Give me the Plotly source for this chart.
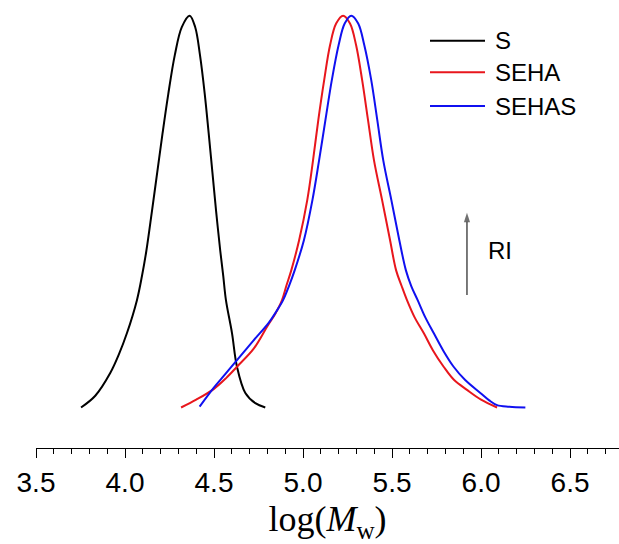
import plotly.graph_objects as go

# ---- data (log Mw, normalized RI) ----
s_x = [3.753, 3.833, 3.917, 3.965, 4.011, 4.067, 4.095, 4.120, 4.151, 4.181, 4.211, 4.243, 4.280, 4.319, 4.363,
       4.394, 4.421, 4.448, 4.470, 4.491, 4.512, 4.535, 4.552, 4.567, 4.601, 4.629, 4.676, 4.732, 4.788]
s_y = [0.000, 0.030, 0.088, 0.135, 0.190, 0.274, 0.335, 0.400, 0.500, 0.600, 0.700, 0.800, 0.900, 0.971, 1.000,
       0.971, 0.900, 0.800, 0.700, 0.600, 0.500, 0.400, 0.335, 0.274, 0.190, 0.104, 0.037, 0.011, 0.000]

seha_x = [4.315, 4.400, 4.498, 4.568, 4.629, 4.723, 4.798, 4.845, 4.882, 4.906, 4.934, 4.978, 5.024, 5.056,
          5.086, 5.119, 5.152, 5.186, 5.225,
          5.264, 5.298, 5.332, 5.365, 5.399, 5.444, 5.489, 5.523, 5.554, 5.584, 5.627, 5.678, 5.731,
          5.790, 5.849, 5.921, 6.000, 6.090]
seha_y = [0.000, 0.020, 0.047, 0.075, 0.104, 0.150, 0.206, 0.240, 0.274, 0.310, 0.350, 0.427, 0.530, 0.630,
          0.734, 0.836, 0.925, 0.980, 1.000,
          0.980, 0.925, 0.836, 0.734, 0.630, 0.530, 0.427, 0.350, 0.310, 0.274, 0.230, 0.190, 0.145,
          0.104, 0.070, 0.045, 0.020, 0.000]

sehas_x = [4.419, 4.498, 4.563, 4.629, 4.720, 4.807, 4.850, 4.888, 4.921, 4.953, 5.005, 5.053, 5.090, 5.126,
           5.162, 5.200, 5.234, 5.271,
           5.310, 5.344, 5.383, 5.417, 5.451, 5.496, 5.541, 5.578, 5.608, 5.644, 5.687, 5.734, 5.788,
           5.846, 5.911, 5.996, 6.046, 6.090, 6.159, 6.249]
sehas_y = [0.002, 0.050, 0.085, 0.121, 0.170, 0.216, 0.245, 0.274, 0.310, 0.350, 0.427, 0.530, 0.630, 0.734,
           0.836, 0.925, 0.980, 1.000,
           0.980, 0.925, 0.836, 0.734, 0.630, 0.530, 0.427, 0.350, 0.310, 0.274, 0.230, 0.190, 0.145,
           0.104, 0.070, 0.037, 0.018, 0.006, 0.002, 0.000]

names = ["S", "SEHA", "SEHAS"]
colors = ["#000000", "#e8161c", "#1010f0"]
series_x = [s_x, seha_x, sehas_x]
series_y = [s_y, seha_y, sehas_y]

tick_vals = [3.5, 4.0, 4.5, 5.0, 5.5, 6.0, 6.5]
tick_text = ["3.5", "4.0", "4.5", "5.0", "5.5", "6.0", "6.5"]

# RI arrow (log Mw position, RI tail, RI head) and label
arrow_x = [5.921, 5.921]
arrow_y = [0.287, 0.497]
ri_label_x, ri_label_y = 6.106, 0.40

fig = go.Figure()
for nm, c, xs, ys in zip(names, colors, series_x, series_y):
    fig.add_trace(go.Scatter(x=xs, y=ys, mode="lines", name=nm,
                             line=dict(color=c, width=2, shape="spline", smoothing=1.0),
                             showlegend=False))

# arrow as a line trace with an arrow marker at its head
fig.add_trace(go.Scatter(x=arrow_x, y=arrow_y, mode="lines+markers", showlegend=False,
                         hoverinfo="skip",
                         line=dict(color="#333333", width=1.3),
                         marker=dict(symbol=["circle", "arrow"], size=[0, 10], angleref="previous",
                                     color="#333333", line=dict(width=0))))

W, H = 619, 544
ml, mr, mt, mb = 36, 0, 10, 96
fig.update_layout(
    width=W, height=H,
    margin=dict(l=ml, r=mr, t=mt, b=mb),
    paper_bgcolor="white", plot_bgcolor="white",
    font=dict(family="Liberation Sans, Arial, sans-serif", color="black"),
    xaxis=dict(
        range=[3.5, 6.775], showgrid=False, zeroline=False,
        showline=True, linecolor="black", linewidth=1,
        tickmode="array", tickvals=tick_vals, ticktext=tick_text,
        ticks="outside", ticklen=9, tickwidth=1, tickcolor="black",
        minor=dict(dtick=0.1, tick0=3.5, ticks="outside", ticklen=5, tickwidth=1, tickcolor="black", showgrid=False),
        tickfont=dict(size=28, family="Liberation Sans, Arial, sans-serif"),
        title=dict(text="log(<i>M</i><sub>w</sub>)", standoff=9,
                   font=dict(size=36, family="Liberation Serif, Times New Roman, serif")),
    ),
    yaxis=dict(range=[-0.1034, 1.0145], showgrid=False, zeroline=False, showline=False,
               showticklabels=False, ticks=""),
)

# manual legend (long line samples like the original)
leg_y_px = [40.7, 72.3, 106.0]
for nm, c, yp in zip(names, colors, leg_y_px):
    yf = 1 - (yp - mt) / (H - mt - mb)
    x0 = (430 - ml) / (W - ml - mr)
    x1 = (485 - ml) / (W - ml - mr)
    fig.add_shape(type="line", xref="paper", yref="paper", x0=x0, x1=x1, y0=yf, y1=yf,
                  line=dict(color=c, width=2))
    fig.add_annotation(xref="paper", yref="paper", x=(493 - ml) / (W - ml - mr), y=yf,
                       text=nm, showarrow=False, xanchor="left", yanchor="middle",
                       font=dict(size=24, color="black"))

fig.add_annotation(x=ri_label_x, y=ri_label_y, xref="x", yref="y", text="RI", showarrow=False,
                   font=dict(size=24, color="black"))

fig.write_html("out.html")
